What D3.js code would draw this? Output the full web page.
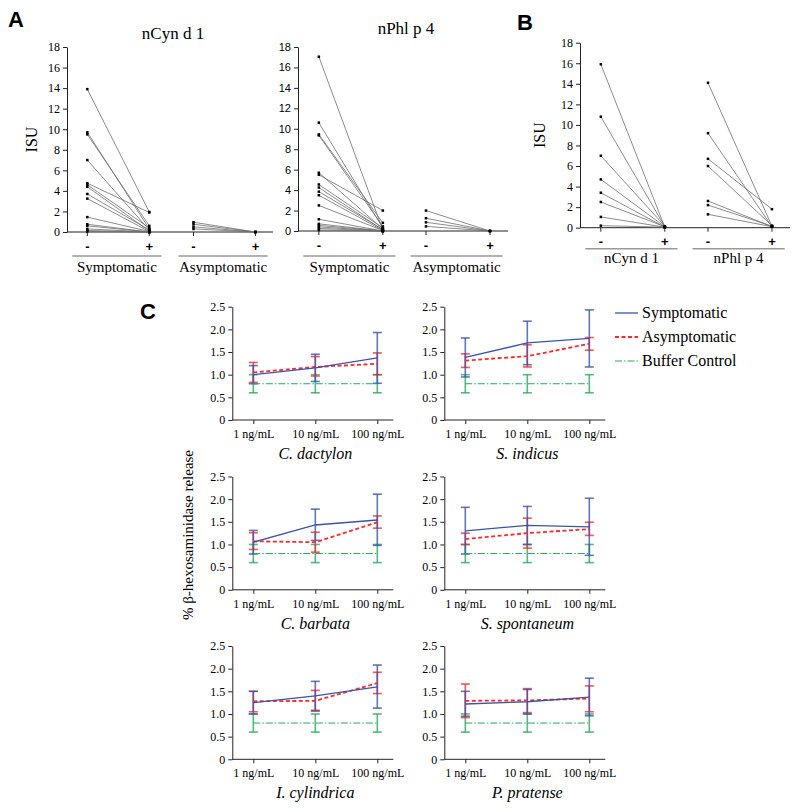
<!DOCTYPE html>
<html>
<head>
<meta charset="utf-8">
<script src="https://cdn.jsdelivr.net/npm/d3@7"></script>
<style>
  body { margin: 0; background: #fff; }
  svg { display: block; }
</style>
</head>
<body>
<div id="graf"></div>
<script>
// I. Datos

// Panel A / B: ISU antes (-) y despues (+)
const isuTicks = [0, 2, 4, 6, 8, 10, 12, 14, 16, 18]
const signos = ['-', '+']

const cynSympPre  = [13.9, 9.7, 9.5, 7.0, 4.75, 4.6, 4.4, 3.7, 3.25, 1.45, 0.75, 0.6, 0.3, 0.15, 0.05]
const cynSympPost = [1.95, 0.3, 0.6, 0.2, 1.9, 0.4, 0.1, 0.2, 0.05, 0.05, 0, 0, 0, 0, 0]
const cynAsymPre  = [0.95, 0.75, 0.5, 0.3]
const cynAsymPost = [0, 0, 0, 0]

const phlSympPre  = [17.05, 10.6, 9.45, 9.35, 5.7, 5.5, 4.55, 4.25, 3.85, 3.5, 2.5, 1.15, 0.7, 0.55, 0.4, 0.25, 0.1]
const phlSympPost = [0.1, 0.3, 0.8, 0.45, 0.2, 2.0, 0.3, 0.1, 0.15, 0.05, 0.05, 0, 0, 0, 0, 0, 0]
const phlAsymPre  = [2.0, 1.25, 0.85, 0.45]
const phlAsymPost = [0, 0, 0, 0]

const bCynPre  = [15.9, 10.8, 7.0, 4.7, 3.4, 2.5, 1.05, 0.2]
const bCynPost = [0.05, 0.1, 0.15, 0.1, 0.05, 0.1, 0.05, 0.05]
const bPhlPre  = [14.1, 9.2, 6.7, 6.0, 2.6, 2.2, 1.3]
const bPhlPost = [0.15, 0.1, 1.8, 0.2, 0.1, 0.15, 0.1]

// Panel C: % beta-hexosaminidasa
const concs = ['1 ng/mL', '10 ng/mL', '100 ng/mL']
const especies = ['C. dactylon', 'S. indicus', 'C. barbata', 'S. spontaneum', 'I. cylindrica', 'P. pratense']
const relTicks = [0, 0.5, 1.0, 1.5, 2.0, 2.5]

const sympMean = [[1.0, 1.15, 1.37], [1.38, 1.70, 1.80], [1.05, 1.43, 1.54], [1.30, 1.42, 1.39], [1.25, 1.40, 1.60], [1.22, 1.27, 1.37]]
const sympLo   = [[0.8, 0.85, 0.81], [0.95, 1.22, 1.17], [0.79, 1.09, 0.98], [0.79, 1.0, 0.76], [1.0, 1.08, 1.13], [0.95, 1.0, 0.96]]
const sympHi   = [[1.2, 1.45, 1.93], [1.81, 2.18, 2.43], [1.31, 1.78, 2.11], [1.82, 1.84, 2.02], [1.50, 1.72, 2.08], [1.50, 1.54, 1.79]]

const asymMean = [[1.05, 1.17, 1.24], [1.31, 1.41, 1.68], [1.07, 1.05, 1.49], [1.12, 1.25, 1.34], [1.28, 1.29, 1.68], [1.29, 1.30, 1.34]]
const asymLo   = [[0.83, 0.97, 1.0], [1.16, 1.17, 1.54], [0.89, 0.83, 1.36], [1.0, 0.92, 1.2], [1.05, 1.06, 1.45], [0.92, 1.03, 1.05]]
const asymHi   = [[1.27, 1.40, 1.48], [1.46, 1.66, 1.82], [1.26, 1.27, 1.63], [1.25, 1.58, 1.49], [1.50, 1.52, 1.92], [1.66, 1.56, 1.62]]

const bufMean = [0.8, 0.8, 0.8]
const bufLo   = [0.6, 0.6, 0.6]
const bufHi   = [1.0, 1.0, 1.0]

const leyenda = ['Symptomatic', 'Asymptomatic', 'Buffer Control']


// II. Configuracion

const serif = '"Liberation Serif", "Times New Roman", serif'
const sans = '"Liberation Sans", Arial, sans-serif'

const azul = '#3a54a8', rojo = '#ff2b2b', verde = '#2aa860'

svg = d3.select('#graf').append('svg')
        .attr('width', 800)
        .attr('height', 808)

function letra(txt, x, y) {
    svg.append('text')
        .attr('x', x).attr('y', y)
        .style('font-family', sans)
        .style('font-weight', 'bold')
        .style('font-size', '22px')
        .text(txt)
}


// III. Paneles A y B

function prePost(cfg) {
    const g = svg.append('g')
        .attr('transform', `translate(${cfg.left}, ${cfg.top})`)

    const y = d3.scaleLinear().domain([0, 18]).range([cfg.h, 0])
    const grp = d3.scaleBand()
        .domain(cfg.groups)
        .range([0, cfg.w])
        .paddingInner(cfg.pi)
        .paddingOuter(0.05)
    const x = d3.scalePoint()
        .domain(signos)
        .range([0, grp.bandwidth()])
        .padding(0.22)
        .align(0.55)

    const yAxis = g.append('g')
        .call(d3.axisLeft(y).tickValues(isuTicks).tickSize(4).tickSizeOuter(0))
    yAxis.selectAll('text')
        .style('font-family', cfg.tickFont)
        .style('font-size', cfg.tickSize)
        .attr('fill', '#000')
    yAxis.selectAll('line,path').attr('stroke', '#222')

    g.append('line')
        .attr('x1', 0).attr('x2', cfg.w)
        .attr('y1', cfg.h).attr('y2', cfg.h)
        .attr('stroke', '#222')

    if (cfg.ylabel) {
        g.append('text')
            .attr('transform', `translate(${cfg.ylabelX}, ${cfg.h / 2}) rotate(-90)`)
            .attr('text-anchor', 'middle')
            .style('font-family', serif)
            .style('font-size', '16px')
            .text('ISU')
    }

    if (cfg.title) {
        svg.append('text')
            .attr('x', cfg.title[1]).attr('y', cfg.title[2])
            .attr('text-anchor', 'middle')
            .style('font-family', serif)
            .style('font-size', '17px')
            .text(cfg.title[0])
    }

    cfg.groups.forEach((gr, i) => {
        const x0 = grp(gr)

        signos.forEach(s => {
            g.append('line')
                .attr('x1', x0 + x(s)).attr('x2', x0 + x(s))
                .attr('y1', cfg.h).attr('y2', cfg.h + 4)
                .attr('stroke', '#222')
            g.append('text')
                .attr('x', x0 + x(s)).attr('y', cfg.h + cfg.signY)
                .attr('text-anchor', 'middle')
                .style('font-family', sans)
                .style('font-weight', 'bold')
                .style('font-size', '13px')
                .attr('fill', '#000')
                .text(s)
        })

        g.append('line')
            .attr('x1', x0).attr('x2', x0 + grp.bandwidth())
            .attr('y1', cfg.h + cfg.lineY).attr('y2', cfg.h + cfg.lineY)
            .attr('stroke', '#999')
            .attr('stroke-width', 1.5)

        g.append('text')
            .attr('x', x0 + grp.bandwidth() / 2).attr('y', cfg.h + cfg.labY)
            .attr('text-anchor', 'middle')
            .style('font-family', serif)
            .style('font-size', '15px')
            .text(gr)

        const pre = cfg.pre[i], post = cfg.post[i]
        const pares = pre.map((v, j) => ({ a: v, b: post[j] }))

        g.selectAll(null).data(pares).enter()
            .append('line')
            .attr('x1', x0 + x('-')).attr('y1', d => y(d.a))
            .attr('x2', x0 + x('+')).attr('y2', d => y(d.b))
            .attr('stroke', '#6e6e6e')
            .attr('stroke-width', 0.8)

        g.selectAll(null).data(pre).enter()
            .append('rect')
            .attr('x', x0 + x('-') - 1.25).attr('y', d => y(d) - 1.25)
            .attr('width', 2.5).attr('height', 2.5)
            .attr('fill', '#000')
        g.selectAll(null).data(post).enter()
            .append('rect')
            .attr('x', x0 + x('+') - 1.25).attr('y', d => y(d) - 1.25)
            .attr('width', 2.5).attr('height', 2.5)
            .attr('fill', '#000')
    })
}

letra('A', 8, 27)
letra('B', 517, 30)
letra('C', 140, 319)

prePost({
    left: 67, top: 47, w: 206, h: 185, pi: 0.16,
    groups: ['Symptomatic', 'Asymptomatic'],
    pre: [cynSympPre, cynAsymPre], post: [cynSympPost, cynAsymPost],
    tickFont: serif, tickSize: '12px', title: ['nCyn d 1', 173, 39],
    ylabel: true, ylabelX: -30,
    signY: 19, lineY: 24, labY: 40
})

prePost({
    left: 298, top: 47, w: 210, h: 184, pi: 0.14,
    groups: ['Symptomatic', 'Asymptomatic'],
    pre: [phlSympPre, phlAsymPre], post: [phlSympPost, phlAsymPost],
    tickFont: sans, tickSize: '11px', title: ['nPhl p 4', 406, 34],
    ylabel: false,
    signY: 19, lineY: 25, labY: 41
})

prePost({
    left: 580, top: 42.7, w: 210, h: 185, pi: 0.14,
    groups: ['nCyn d 1', 'nPhl p 4'],
    pre: [bCynPre, bPhlPre], post: [bCynPost, bPhlPost],
    tickFont: serif, tickSize: '12px',
    ylabel: true, ylabelX: -35,
    signY: 18, lineY: 21, labY: 35
})


// IV. Panel C

const colLeft = [232.3, 444.3]
const rowTop = [306.7, 476.5, 646]
const altoC = 113.3, anchoC = 161

function respuesta(i) {
    const col = i % 2, row = Math.floor(i / 2)
    const g = svg.append('g')
        .attr('transform', `translate(${colLeft[col]}, ${rowTop[row]})`)

    const y = d3.scaleLinear().domain([0, 2.5]).range([altoC, 0])
    const x = d3.scalePoint().domain(concs).range([21, 145])

    const yAxis = g.append('g')
        .call(d3.axisLeft(y).tickValues(relTicks)
            .tickFormat(d => d === 0 ? '0' : d.toFixed(1))
            .tickSize(4).tickSizeOuter(0))
    yAxis.selectAll('text')
        .style('font-family', serif).style('font-size', '12px').attr('fill', '#000')
    yAxis.selectAll('line,path').attr('stroke', '#222')

    const xAxis = g.append('g')
        .attr('transform', `translate(0, ${altoC})`)
        .call(d3.axisBottom(x).tickSize(4).tickSizeOuter(0))
    xAxis.select('.domain').attr('d', `M0,0H${anchoC}`)
    xAxis.selectAll('text')
        .style('font-family', serif).style('font-size', '12px').attr('fill', '#000')
        .attr('dy', '0.9em')
    xAxis.selectAll('line,path').attr('stroke', '#222')

    const series = [
        { mean: bufMean, lo: bufLo, hi: bufHi, color: verde, dash: '7,2,1.5,2', width: 1 },
        { mean: asymMean[i], lo: asymLo[i], hi: asymHi[i], color: rojo, dash: '4,2.5', width: 1.8 },
        { mean: sympMean[i], lo: sympLo[i], hi: sympHi[i], color: azul, dash: null, width: 1.3 }
    ]

    series.forEach(s => {
        const eb = g.append('g')
            .attr('stroke', s.color)
            .attr('stroke-opacity', 0.8)
            .attr('stroke-width', 1.6)
        concs.forEach((c, j) => {
            eb.append('line')
                .attr('x1', x(c)).attr('x2', x(c))
                .attr('y1', y(s.lo[j])).attr('y2', y(s.hi[j]))
            ;[s.lo[j], s.hi[j]].forEach(v => {
                eb.append('line')
                    .attr('x1', x(c) - 4.5).attr('x2', x(c) + 4.5)
                    .attr('y1', y(v)).attr('y2', y(v))
            })
        })
    })

    const linea = d3.line()
        .x((d, j) => x(concs[j]))
        .y(d => y(d))

    series.forEach(s => {
        g.append('path')
            .datum(s.mean)
            .attr('d', linea)
            .attr('fill', 'none')
            .attr('stroke', s.color)
            .attr('stroke-width', s.width)
            .attr('stroke-dasharray', s.dash)
    })

    g.append('text')
        .attr('x', x(concs[1])).attr('y', altoC + 39)
        .attr('text-anchor', 'middle')
        .style('font-family', serif)
        .style('font-style', 'italic')
        .style('font-size', '16px')
        .text(especies[i])
}

especies.forEach((e, i) => respuesta(i))

svg.append('text')
    .attr('transform', 'translate(193, 535) rotate(-90)')
    .attr('text-anchor', 'middle')
    .style('font-family', serif)
    .style('font-size', '15px')
    .text('% β-hexosaminidase release')

// leyenda
const estilos = [
    { color: azul, dash: null, width: 1.3 },
    { color: rojo, dash: '4,2.5', width: 1.8 },
    { color: verde, dash: '7,2,1.5,2', width: 1 }
]
leyenda.forEach((l, i) => {
    const yy = 313 + i * 24
    svg.append('line')
        .attr('x1', 615).attr('x2', 638)
        .attr('y1', yy).attr('y2', yy)
        .attr('stroke', estilos[i].color)
        .attr('stroke-width', estilos[i].width)
        .attr('stroke-dasharray', estilos[i].dash)
    svg.append('text')
        .attr('x', 642).attr('y', yy + 5)
        .style('font-family', serif)
        .style('font-size', '16px')
        .text(l)
})
</script>
</body>
</html>
